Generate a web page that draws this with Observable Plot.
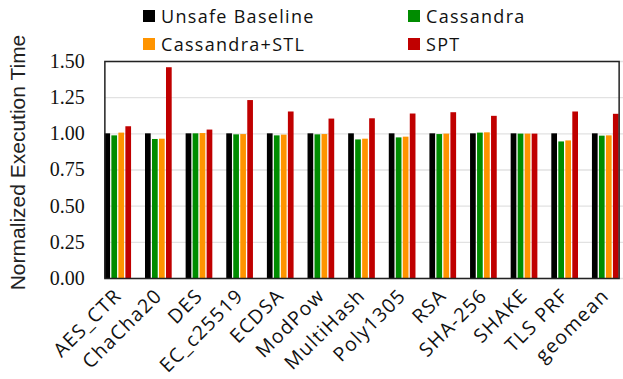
<!DOCTYPE html>
<html>
<head>
<meta charset="utf-8">
<script src="https://cdn.jsdelivr.net/npm/d3@7"></script>
<script src="https://cdn.jsdelivr.net/npm/@observablehq/plot@0.6"></script>
<style>
  html, body { margin: 0; padding: 0; background: #fff; overflow: hidden; }
  #wrap { position: relative; width: 623px; height: 379px; }
  #legend {
    position: absolute; left: 143px; top: 2px;
    display: grid; grid-template-columns: 265px auto; grid-auto-rows: 28px;
    font-family: "Open Sans", sans-serif; font-size: 18px; letter-spacing: 1.3px; color: #111;
  }
  .item { display: flex; align-items: center; gap: 6px; }
  .sw { width: 12px; height: 12px; display: inline-block; }
  svg { display: block; }
  g[aria-label="y-axis tick label"] text { font-family: "Liberation Serif", serif; font-size: 20px; }
  g[aria-label="fx-axis tick label"] text { font-family: "Open Sans", sans-serif; font-size: 19.5px; letter-spacing: 1.3px; }
</style>
</head>
<body>
<div id="wrap">
  <div id="chart"></div>
  <div id="legend"></div>
</div>
<script>
const categories = ["AES_CTR","ChaCha20","DES","EC_c25519","ECDSA","ModPow","MultiHash","Poly1305","RSA","SHA-256","SHAKE","TLS PRF","geomean"];
const seriesNames = ["Unsafe Baseline","Cassandra","Cassandra+STL","SPT"];
const seriesColors = ["#000000","#008c00","#ff9400","#c00000"];
const baseline     = [1.000,1.000,1.000,1.000,1.000,1.000,1.000,1.000,1.000,1.000,1.000,1.000,1.000];
const cassandra    = [0.986,0.961,1.000,0.993,0.986,0.993,0.958,0.972,0.995,1.005,0.998,0.944,0.984];
const cassandraSTL = [1.005,0.963,1.002,0.995,0.991,0.995,0.963,0.977,0.998,1.007,0.998,0.951,0.986];
const spt          = [1.049,1.457,1.026,1.230,1.151,1.102,1.104,1.137,1.146,1.121,0.998,1.151,1.135];
const yTicks = [0, 0.25, 0.5, 0.75, 1.0, 1.25, 1.5];
const yLabel = "Normalized Execution Time";

const seriesValues = [baseline, cassandra, cassandraSTL, spt];
const data = [];
categories.forEach((c, i) => {
  seriesNames.forEach((s, j) => data.push({bench: c, series: s, value: seriesValues[j][i]}));
});

const chart = Plot.plot({
  width: 623,
  height: 379,
  marginLeft: 97.4,
  marginRight: -2.6,
  marginTop: 61,
  marginBottom: 101,
  style: {background: "transparent", overflow: "visible"},
  fx: {domain: categories, paddingInner: 0.343, paddingOuter: 0.1715, round: false, label: null},
  x: {domain: seriesNames, paddingInner: 0.186, paddingOuter: 0, round: false, axis: null},
  y: {domain: [0, 1.5], label: null},
  color: {domain: seriesNames, range: seriesColors},
  marks: [
    Plot.axisY(yTicks, {tickSize: -530, tickFormat: () => "", stroke: "#e2e2e2", strokeWidth: 1.4, label: null}),
    Plot.barY(data, {fx: "bench", x: "series", y: "value", fill: "series"}),
    Plot.axisY(yTicks, {tickSize: 0, tickPadding: 20, tickFormat: d3.format(".2f"), fill: "#111", label: null,
      fontFamily: "Liberation Serif", fontSize: 20}),
    Plot.axisFx({anchor: "bottom", tickRotate: -45, tickSize: 0, tickPadding: 14, fill: "#111", label: null}),
    Plot.text([yLabel], {facet: "super", frameAnchor: "left", rotate: -90, dx: -87, dy: -7.5,
      textAnchor: "middle", lineAnchor: "middle", fontFamily: "Liberation Sans", fontSize: 21, fill: "#222"}),
    Plot.frame({facet: "super", stroke: "#222", strokeWidth: 1.5})
  ]
});
document.getElementById("chart").appendChild(chart);

const legend = document.getElementById("legend");
[0, 1, 2, 3].forEach(j => {
  const it = document.createElement("div");
  it.className = "item";
  const sw = document.createElement("span");
  sw.className = "sw";
  sw.style.background = seriesColors[j];
  const t = document.createElement("span");
  t.textContent = seriesNames[j];
  it.appendChild(sw); it.appendChild(t);
  legend.appendChild(it);
});
</script>
</body>
</html>
